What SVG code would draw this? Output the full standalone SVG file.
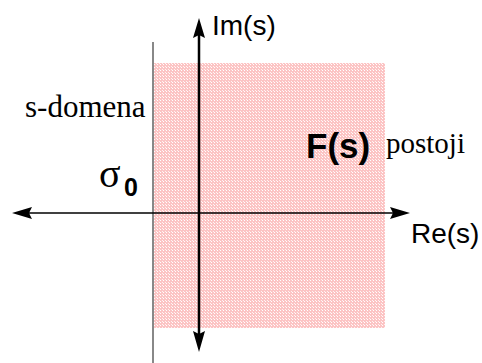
<svg xmlns="http://www.w3.org/2000/svg" width="482" height="363" viewBox="0 0 482 363">
<defs>
<style>
.sans{font-family:"Liberation Sans",Arial,sans-serif;fill:#000}
.serif{font-family:"Liberation Serif","Times New Roman",serif;fill:#000}
.axis{stroke:#000;fill:none}
.head{fill:#000}
</style>
<pattern id="dots" width="3" height="3" patternUnits="userSpaceOnUse">
<rect width="3" height="3" fill="#fcc4c4"/>
<rect x="1" y="1" width="1" height="1" fill="#ffffff"/>
<rect x="0" y="0" width="1" height="1" fill="#fff2f2"/>
</pattern>
</defs>
<rect width="482" height="363" fill="#fff"/>
<g id="region">
<rect x="154" y="63" width="231" height="265" fill="url(#dots)"/>
</g>
<g id="sigma-line">
<line x1="153" y1="42" x2="153" y2="363" stroke="#888" stroke-width="2"/>
</g>
<g id="connectors">
<line class="axis" x1="28" y1="213" x2="394" y2="213" stroke-width="1.5"/>
<polygon class="head" points="12,213 32,207 29,213 32,219"/>
<polygon class="head" points="410,213 390,207 393,213 390,219"/>
<line class="axis" x1="199" y1="34" x2="199" y2="336" stroke-width="2.5"/>
<polygon class="head" points="199,18 193,38 199,35 205,38"/>
<polygon class="head" points="199,352 193,331 199,334 205,331"/>
</g>
<g id="labels">
<text class="sans" x="212" y="35" font-size="28">Im(s)</text>
<text class="sans" x="411" y="243" font-size="28">Re(s)</text>
<text class="serif" x="25" y="117" font-size="31">s-domena</text>
<text class="sans" x="306" y="158" font-size="35" font-weight="bold">F(s)</text>
<text class="serif" x="386" y="153" font-size="29">postoji</text>
<text class="serif" x="99" y="187" font-size="40">σ</text>
<text class="sans" x="124" y="196" font-size="25" font-weight="bold">0</text>
</g>
</svg>
